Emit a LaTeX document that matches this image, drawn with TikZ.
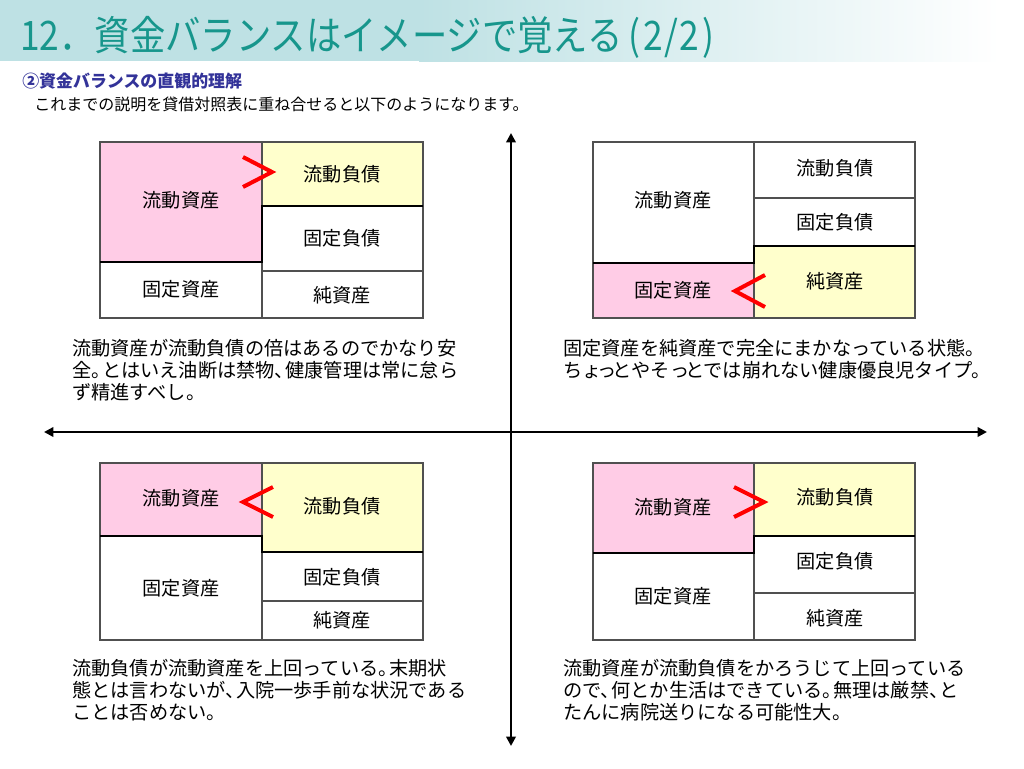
\documentclass[tikz,border=0pt]{standalone}
\usepackage{fontspec}
\usepackage{graphicx}
\setmainfont{Noto Sans CJK JP}
\usetikzlibrary{arrows.meta}
\definecolor{bandc}{RGB}{190,225,228}
\definecolor{titlec}{RGB}{23,150,140}
\definecolor{subc}{RGB}{51,51,153}
\definecolor{pinkc}{RGB}{255,204,230}
\definecolor{yelc}{RGB}{255,255,204}
\definecolor{gridc}{RGB}{80,80,80}
\newcommand\hp[1]{#1\kern-0.45em}
\newcommand\sk[1]{#1\kern-0.22em}
\tikzset{
  cellline/.style={draw=gridc, line width=0.8pt},
  splitline/.style={draw=black, line width=2.2pt},
  chev/.style={draw=red, line width=3pt, line join=miter},
  axis/.style={draw=black, line width=2.2pt, {Triangle[length=7pt,width=7pt]}-{Triangle[length=7pt,width=7pt]}},
  lbl/.style={inner sep=0pt, font=\fontsize{14.4pt}{16pt}\selectfont},
  para/.style={inner sep=0pt, anchor=west, align=left, font=\fontsize{14.4pt}{16.5pt}\selectfont}
}
\begin{document}
\begin{tikzpicture}[x=0.75pt,y=-0.75pt]
\useasboundingbox (0,0) rectangle (1024,768);
\fill[white] (0,0) rectangle (1024,768);
% title band
\fill[bandc] (0,0) rectangle (420,61);
\shade[left color=bandc, right color=white] (419,0) rectangle (1000,61);
\node[inner sep=0pt, anchor=west, text=titlec, font=\fontsize{26.5pt}{30pt}\selectfont] (title) at (20,37) {\scalebox{1}[1.15]{12．資金バランスはイメージで覚える\kern5pt(\kern2pt2\kern1pt/\kern1pt2\kern2pt)}};
\node[inner sep=0pt, anchor=west, text=subc, font=\bfseries\fontsize{12.7pt}{14pt}\selectfont] (sub) at (22,81) {②資金バランスの直観的理解};
\node[inner sep=0pt, anchor=west, font=\fontsize{12pt}{14pt}\selectfont] (intro) at (34,104) {これまでの説明を貸借対照表に重ね合せると以下のようになります。};

% axes
\coordinate (vtop) at (511,133);
\coordinate (vbot) at (511,746);
\coordinate (hleft) at (44,432);
\coordinate (hright) at (987,432);
\draw[axis] (vtop) -- (vbot);
\draw[axis] (hleft) -- (hright);

% ---------- top-left ----------
\fill[pinkc] (100,142) rectangle (262,262);
\fill[yelc] (262,142) rectangle (423,206);
\draw[cellline] (100,142) rectangle (423,318);
\draw[cellline] (262,142) -- (262,318);
\draw[cellline] (262,271) -- (423,271);
\draw[splitline] (100,262) -- (262,262) -- (262,206) -- (423,206);
\draw[chev] (243,157) -- (272,172) -- (243,187);
\node[lbl] (tlA) at (181,200) {流動資産};
\node[lbl] (tlB) at (181,289) {固定資産};
\node[lbl] (tlC) at (342,174) {流動負債};
\node[lbl] (tlD) at (342,238) {固定負債};
\node[lbl] (tlE) at (342,295) {純資産};
\node[para] (tlP) at (72,370) {流動資産が流動負債の倍はあるのでかなり安\\全\hp{。}とはいえ油断は禁物\hp{、}健康管理は常に怠ら\\ず精進すべし。};

% ---------- top-right ----------
\fill[pinkc] (593,263) rectangle (754,318);
\fill[yelc] (754,246) rectangle (915,318);
\draw[cellline] (593,142) rectangle (915,318);
\draw[cellline] (754,142) -- (754,318);
\draw[cellline] (754,198) -- (915,198);
\draw[splitline] (593,263) -- (754,263) -- (754,246) -- (915,246);
\draw[chev] (765,275) -- (735,291) -- (765,307);
\node[lbl] (trA) at (673,200) {流動資産};
\node[lbl] (trB) at (673,290) {固定資産};
\node[lbl] (trC) at (835,168) {流動負債};
\node[lbl] (trD) at (835,222) {固定負債};
\node[lbl] (trE) at (835,281) {純資産};
\node[para] (trP) at (563,359) {固定資産を純資産で完全にまかなっている状態。\\ち\sk{ょ}\sk{っ}とやそ\sk{っ}とでは崩れない健康優良児タイプ。};

% ---------- bottom-left ----------
\fill[pinkc] (100,463) rectangle (262,536);
\fill[yelc] (262,463) rectangle (423,552);
\draw[cellline] (100,463) rectangle (423,640);
\draw[cellline] (262,463) -- (262,640);
\draw[cellline] (262,601) -- (423,601);
\draw[splitline] (100,536) -- (262,536) -- (262,552) -- (423,552);
\draw[chev] (273,487) -- (243,502) -- (273,517);
\node[lbl] (blA) at (181,498) {流動資産};
\node[lbl] (blB) at (181,588) {固定資産};
\node[lbl] (blC) at (342,506) {流動負債};
\node[lbl] (blD) at (342,577) {固定負債};
\node[lbl] (blE) at (342,620) {純資産};
\node[para] (blP) at (72,690) {流動負債が流動資産を上回っている\hp{。}末期状\\態とは言わないが\hp{、}入院一歩手前な状況である\\ことは否めない。};

% ---------- bottom-right ----------
\fill[pinkc] (593,463) rectangle (754,553);
\fill[yelc] (754,463) rectangle (915,536);
\draw[cellline] (593,463) rectangle (915,640);
\draw[cellline] (754,463) -- (754,640);
\draw[cellline] (754,593) -- (915,593);
\draw[splitline] (593,553) -- (754,553) -- (754,536) -- (915,536);
\draw[chev] (734,487) -- (764,502) -- (734,517);
\node[lbl] (brA) at (673,507) {流動資産};
\node[lbl] (brB) at (673,596) {固定資産};
\node[lbl] (brC) at (835,497) {流動負債};
\node[lbl] (brD) at (835,561) {固定負債};
\node[lbl] (brE) at (835,618) {純資産};
\node[para] (brP) at (563,690) {流動資産が流動負債をかろうじて上回っている\\ので\hp{、}何とか生活はできている\hp{。}無理は厳禁\hp{、}と\\たんに病院送りになる可能性大。};
\end{tikzpicture}
\end{document}
